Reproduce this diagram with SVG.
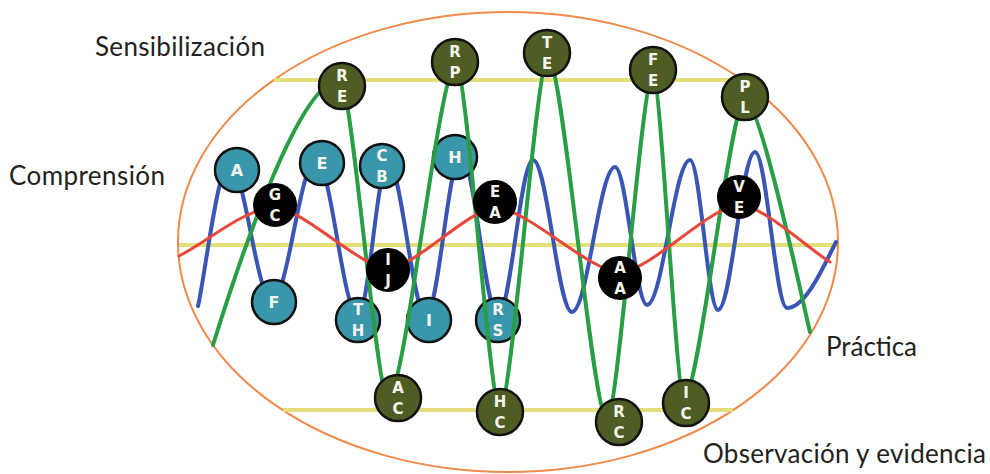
<svg xmlns="http://www.w3.org/2000/svg" width="990" height="474" viewBox="0 0 990 474">
<style>
.lbl{font-family:Lato,"Open Sans","Liberation Sans",sans-serif;font-size:26px;fill:#231f20}
.wave{fill:none;stroke-linecap:round;stroke-linejoin:round}
.blue{stroke:#3a56b4;stroke-width:4}
.green{stroke:#2a9e46;stroke-width:4}
.red{stroke:#e8473a;stroke-width:3}
.yel{stroke:#e4df7a;stroke-width:4}
.teal{fill:#3a97ab;stroke:#111;stroke-width:2.5}
.olive{fill:#4e5d23;stroke:#111;stroke-width:2.5}
.blk{fill:#000;stroke:#000;stroke-width:2}
.t{font-family:"DejaVu Sans",Verdana,sans-serif;font-weight:bold;font-size:15px;fill:#f4f4ec;text-anchor:middle}
.t1{font-size:16px}
</style>
<rect width="990" height="474" fill="#fff"/>
<ellipse cx="508" cy="242" rx="330" ry="230" fill="none" stroke="#f08a4b" stroke-width="2"/>
<g id="levels">
<line class="yel" x1="274" y1="80" x2="742" y2="80"/>
<line class="yel" x1="179" y1="245" x2="837" y2="245"/>
<line class="yel" x1="283" y1="410" x2="733" y2="410"/>
</g>
<text class="lbl" x="95" y="56" textLength="170">Sensibilización</text>
<text class="lbl" x="9" y="185" textLength="156">Comprensión</text>
<text class="lbl" x="826" y="356" textLength="91">Práctica</text>
<text class="lbl" x="703" y="463" textLength="283">Observación y evidencia</text>
<g id="connectors-back">
<path class="wave blue" d="M198,306 C204,282 218,163 229,163 C244.7,163 256.3,300 272,300 C288,300 300,160 316,160 C331.3,160 342.7,315 358,315 C369,315 377,163 388,163 C401.8,163 412.2,315 426,315 C438.7,315 448.3,155 461,155 C474.5,155 484.5,315 498,315 C510.7,315 520.3,160 533,160 C547.2,160 557.8,312 572,312 C587.6,312 599.4,167 615,167 C626.6,167 635.4,305 647,305 C662.6,305 674.4,160 690,160 C700.2,160 707.8,310 718,310 C731.5,310 741.5,152 755,152 C766.6,152 775.4,308 787,308 C805,308 822,270 836,242"/>
</g>
<g id="node-A"><circle class="teal" cx="237" cy="170" r="22"/><text class="t t1" x="237" y="176">A</text></g>
<g id="node-E"><circle class="teal" cx="322" cy="163" r="22"/><text class="t t1" x="322" y="169">E</text></g>
<g id="node-CB"><circle class="teal" cx="382" cy="166" r="22"/><text class="t" x="382" y="161">C</text><text class="t" x="382" y="182">B</text></g>
<g id="node-H"><circle class="teal" cx="455" cy="157" r="22"/><text class="t t1" x="455" y="163">H</text></g>
<g id="node-F"><circle class="teal" cx="274" cy="302" r="22"/><text class="t t1" x="274" y="308">F</text></g>
<g id="node-TH"><circle class="teal" cx="358" cy="320" r="22"/><text class="t" x="358" y="315">T</text><text class="t" x="358" y="336">H</text></g>
<g id="node-I"><circle class="teal" cx="429" cy="320" r="22"/><text class="t t1" x="429" y="326">I</text></g>
<g id="node-RS"><circle class="teal" cx="498" cy="320" r="22"/><text class="t" x="498" y="315">R</text><text class="t" x="498" y="336">S</text></g>
<g id="connectors-front">
<path class="wave green" d="M213,345 C241,255 300,80 340,80 C352,80 376,398 388,398 C405,398 439,65 456,65 C467,65 489,408 500,408 C512,408 536,58 548,58 C563,58 592,418 607,418 C618.5,418 641.5,75 653,75 C661,75 676,398 684,398 C699,398 730,100 745,100 C760,100 800,290 810,332"/>
<path class="wave red" d="M179,256 C210,240 245,208 275,208 C303,208 360,268 388,268 C415,268 469,208 496,208 C527,208 589,272 620,272 C650,272 710,205 740,205 C762,205 810,250 830,262"/>
</g>
<g id="node-GC"><circle class="blk" cx="275" cy="205" r="21"/><text class="t" x="275" y="200">G</text><text class="t" x="275" y="221">C</text></g>
<g id="node-IJ"><circle class="blk" cx="388" cy="270" r="21"/><text class="t" x="388" y="265">I</text><text class="t" x="388" y="286">J</text></g>
<g id="node-EA"><circle class="blk" cx="495" cy="202" r="21"/><text class="t" x="495" y="197">E</text><text class="t" x="495" y="218">A</text></g>
<g id="node-AA"><circle class="blk" cx="620" cy="278" r="21"/><text class="t" x="620" y="273">A</text><text class="t" x="620" y="294">A</text></g>
<g id="node-VE"><circle class="blk" cx="739" cy="197" r="21"/><text class="t" x="739" y="192">V</text><text class="t" x="739" y="213">E</text></g>
<g id="node-RE"><circle class="olive" cx="342" cy="86" r="23"/><text class="t" x="342" y="81">R</text><text class="t" x="342" y="102">E</text></g>
<g id="node-RP"><circle class="olive" cx="455" cy="62" r="23"/><text class="t" x="455" y="57">R</text><text class="t" x="455" y="78">P</text></g>
<g id="node-TE"><circle class="olive" cx="547" cy="53" r="23"/><text class="t" x="547" y="48">T</text><text class="t" x="547" y="69">E</text></g>
<g id="node-FE"><circle class="olive" cx="653" cy="70" r="23"/><text class="t" x="653" y="65">F</text><text class="t" x="653" y="86">E</text></g>
<g id="node-PL"><circle class="olive" cx="745" cy="97" r="23"/><text class="t" x="745" y="92">P</text><text class="t" x="745" y="113">L</text></g>
<g id="node-AC"><circle class="olive" cx="398" cy="398" r="23"/><text class="t" x="398" y="393">A</text><text class="t" x="398" y="414">C</text></g>
<g id="node-HC"><circle class="olive" cx="500" cy="412" r="23"/><text class="t" x="500" y="407">H</text><text class="t" x="500" y="428">C</text></g>
<g id="node-RC"><circle class="olive" cx="619" cy="422" r="23"/><text class="t" x="619" y="417">R</text><text class="t" x="619" y="438">C</text></g>
<g id="node-IC"><circle class="olive" cx="686" cy="403" r="23"/><text class="t" x="686" y="398">I</text><text class="t" x="686" y="419">C</text></g>
</svg>
